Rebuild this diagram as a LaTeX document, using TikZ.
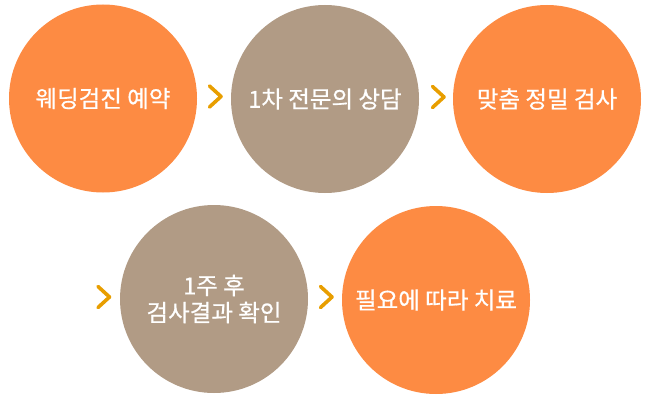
\documentclass[tikz,border=0pt]{standalone}
\usepackage{fontspec}
\newfontfamily\kr{Noto Sans CJK KR}[FakeBold=0.6]
\definecolor{orangec}{HTML}{FD8B43}
\definecolor{taupec}{HTML}{B19B85}
\definecolor{chevc}{HTML}{E89E00}
\begin{document}
\begin{tikzpicture}[x=1pt,y=1pt,
  stepcircle/.style={circle,minimum size=188pt,inner sep=0pt,text=white,font=\kr\fontsize{23.5}{27}\selectfont,align=center},
  orangestep/.style={stepcircle,fill=orangec},
  taupestep/.style={stepcircle,fill=taupec},
  chev/.style={draw=chevc,line width=3.6pt,line cap=round,line join=round}]
\useasboundingbox (0,0) rectangle (650,400);
\node[orangestep] (s1) at (103,301.5) {웨딩검진 예약};
\node[taupestep] (s2) at (325,301) {1차 전문의 상담};
\node[orangestep] (s3) at (547,301) {맞춤 정밀 검사};
\node[taupestep] (s4) at (214,101) {1주 후\\검사결과 확인};
\node[orangestep] (s5) at (436,100) {필요에 따라 치료};
% chevrons
\coordinate (c1) at (221,303.5);
\coordinate (c2) at (444,303);
\coordinate (c3) at (109.5,103);
\coordinate (c4) at (332,103);
\foreach \c in {c1,c2,c3,c4}{
  \draw[chev] ([shift={(-11.5,10.5)}]\c) -- (\c) -- ([shift={(-11.5,-10.5)}]\c);
}
\end{tikzpicture}
\end{document}
